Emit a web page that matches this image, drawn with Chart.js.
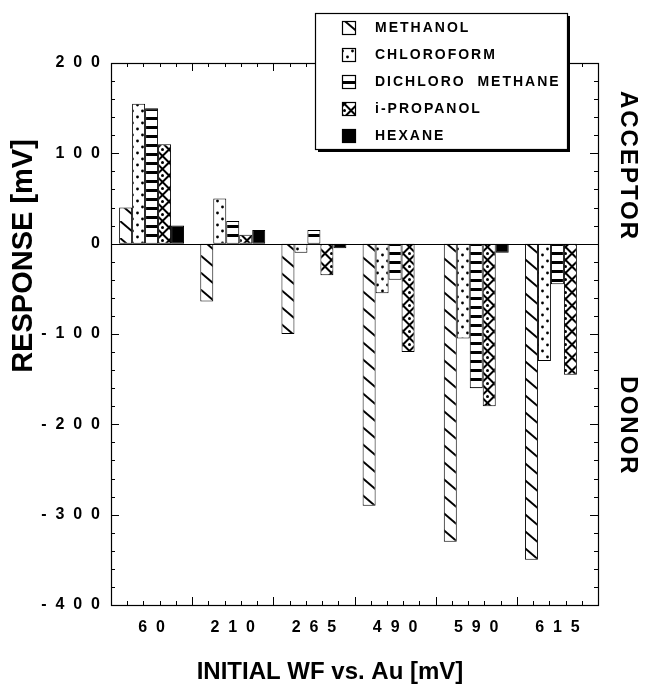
<!DOCTYPE html>
<html>
<head>
<meta charset="utf-8">
<script src="https://cdn.jsdelivr.net/npm/chart.js@4/dist/chart.umd.min.js"></script>
<style>
  html, body { margin: 0; padding: 0; background: #fff; }
  #wrap { width: 645px; height: 686px; }
</style>
</head>
<body>
<div id="wrap"><canvas id="chart" width="645" height="686"></canvas></div>
<script>
// Data (mV)
const categories = ["60", "210", "265", "490", "590", "615"];
const solvents = ["METHANOL", "CHLOROFORM", "DICHLORO  METHANE", "i-PROPANOL", "HEXANE"];
const methanol = [40, -64, -100, -290, -330, -350];
const chloroform = [155, 50, -10, -55, -105, -130];
const dichloromethane = [150, 25, 15, -40, -160, -45];
const ipropanol = [110, 10, -35, -120, -180, -145];
const hexane = [20, 15, -5, null, -10, null];
const yTicks = [-400, -300, -200, -100, 0, 100, 200];

const FONT = "'Liberation Sans', Arial, Helvetica, sans-serif";

// Spread digits out like the original labels
function spaced(v) {
  return String(v).split("").join("  ");
}

// Hatch fills
function makePattern(kind, ctx) {
  const c = document.createElement("canvas");
  const g = c.getContext("2d");
  if (kind === "diag") {
    c.width = 20; c.height = 17;
    g.fillStyle = "#fff"; g.fillRect(0, 0, 20, 17);
    g.strokeStyle = "#000"; g.lineWidth = 2;
    [[-20, -17], [0, 0], [20, 17]].forEach(([ox, oy]) => {
      g.beginPath(); g.moveTo(ox, oy); g.lineTo(ox + 20, oy + 17); g.stroke();
    });
  } else if (kind === "dots") {
    c.width = 10; c.height = 12;
    g.fillStyle = "#fff"; g.fillRect(0, 0, 10, 12);
    g.fillStyle = "#000";
    g.beginPath(); g.arc(2.5, 3, 1.4, 0, Math.PI * 2); g.fill();
    g.beginPath(); g.arc(7.5, 9, 1.4, 0, Math.PI * 2); g.fill();
  } else if (kind === "hstripe") {
    c.width = 4; c.height = 9;
    g.fillStyle = "#fff"; g.fillRect(0, 0, 4, 9);
    g.fillStyle = "#000"; g.fillRect(0, 0, 4, 3);
  } else if (kind === "diamond") {
    c.width = 13; c.height = 13;
    g.fillStyle = "#fff"; g.fillRect(0, 0, 13, 13);
    g.strokeStyle = "#000"; g.lineWidth = 2;
    g.beginPath();
    g.moveTo(6.5, 0); g.lineTo(13, 6.5); g.lineTo(6.5, 13); g.lineTo(0, 6.5); g.closePath();
    g.stroke();
    g.fillStyle = "#000";
    g.beginPath(); g.arc(6.5, 6.5, 1.5, 0, Math.PI * 2); g.fill();
  }
  return ctx.createPattern(c, "repeat");
}

document.addEventListener("DOMContentLoaded", () => {
  const canvas = document.getElementById("chart");
  const ctx = canvas.getContext("2d");

  const fills = [
    makePattern("diag", ctx),
    makePattern("dots", ctx),
    makePattern("hstripe", ctx),
    makePattern("diamond", ctx),
    "#000"
  ];
  const series = [methanol, chloroform, dichloromethane, ipropanol, hexane];

  // Frame, inward ticks, zero line, side labels and the boxed legend
  const decorPlugin = {
    id: "decor",
    afterDraw(chart) {
      const c = chart.ctx;
      const a = chart.chartArea;
      const x = chart.scales.x;
      const y = chart.scales.y;
      c.save();
      c.strokeStyle = "#000";
      c.lineWidth = 1.2;

      // zero line
      const y0 = Math.round(y.getPixelForValue(0)) + 0.5;
      c.beginPath(); c.moveTo(a.left, y0); c.lineTo(a.right, y0); c.stroke();

      // frame
      c.strokeRect(a.left + 0.5, a.top + 0.5, a.right - a.left, a.bottom - a.top);

      // y ticks every 20, both sides
      c.lineWidth = 1;
      for (let v = -400; v <= 200; v += 20) {
        const py = Math.round(y.getPixelForValue(v)) + 0.5;
        const len = v % 100 === 0 ? 8 : 4;
        c.beginPath();
        c.moveTo(a.left, py); c.lineTo(a.left + len, py);
        c.moveTo(a.right, py); c.lineTo(a.right - len, py);
        c.stroke();
      }
      // x ticks: major at category boundaries, 4 minor between
      for (let i = 0; i < categories.length * 5 + 1; i++) {
        const v = -0.5 + i / 5;
        const px = Math.round(x.getPixelForValue(v)) + 0.5;
        const len = i % 5 === 0 ? 8 : 4;
        c.beginPath();
        c.moveTo(px, a.bottom); c.lineTo(px, a.bottom - len);
        c.moveTo(px, a.top); c.lineTo(px, a.top + len);
        c.stroke();
      }

      // axis titles
      c.fillStyle = "#000";
      c.textAlign = "center";
      c.textBaseline = "middle";
      c.font = "bold 24px " + FONT;
      c.fillText("INITIAL WF vs. Au [mV]", 330, 672);

      c.save();
      c.translate(24, 256);
      c.rotate(-Math.PI / 2);
      c.font = "bold 29px " + FONT;
      c.fillText("RESPONSE [mV]", 0, 0);
      c.restore();

      c.save();
      c.font = "bold 24px " + FONT;
      c.letterSpacing = "2px";
      c.translate(628, 166);
      c.rotate(Math.PI / 2);
      c.fillText("ACCEPTOR", 0, 0);
      c.restore();
      c.save();
      c.font = "bold 24px " + FONT;
      c.letterSpacing = "2px";
      c.translate(628, 426);
      c.rotate(Math.PI / 2);
      c.fillText("DONOR", 0, 0);
      c.restore();

      // legend box with drop shadow
      const lx = 315, ly = 13, lw = 252, lh = 136;
      c.fillStyle = "#000";
      c.fillRect(lx + 3, ly + 3, lw, lh);
      c.fillStyle = "#fff";
      c.fillRect(lx, ly, lw, lh);
      c.lineWidth = 1.2;
      c.strokeRect(lx + 0.5, ly + 0.5, lw, lh);

      c.textAlign = "left";
      c.font = "bold 14px " + FONT;
      c.letterSpacing = "2px";
      solvents.forEach((name, i) => {
        const cy = 27 + i * 27;
        c.fillStyle = fills[i];
        c.fillRect(342, cy - 6, 13, 13);
        c.strokeStyle = "#000";
        c.lineWidth = 1.2;
        c.strokeRect(342.5, cy - 5.5, 13, 13);
        c.fillStyle = "#000";
        c.fillText(name, 375, cy + 1);
      });
      c.restore();
    }
  };

  new Chart(ctx, {
    type: "bar",
    data: {
      labels: categories,
      datasets: series.map((d, i) => ({
        label: solvents[i],
        data: d,
        backgroundColor: fills[i],
        borderColor: "#000",
        borderWidth: 1,
        borderSkipped: false,
        categoryPercentage: 0.8,
        barPercentage: 1.0
      }))
    },
    options: {
      responsive: false,
      animation: false,
      events: [],
      layout: { padding: { top: 63, right: 47, left: 0, bottom: 0 } },
      plugins: {
        legend: { display: false },
        tooltip: { enabled: false }
      },
      scales: {
        x: {
          grid: { display: false, drawTicks: false },
          border: { display: false },
          ticks: {
            color: "#000",
            padding: 13,
            font: { family: FONT, size: 16, weight: "bold" },
            callback: (v, i) => spaced(categories[i])
          },
          afterFit: (s) => { s.height = 81; }
        },
        y: {
          min: -400,
          max: 200,
          grid: { display: false, drawTicks: false },
          border: { display: false },
          afterBuildTicks: (s) => { s.ticks = yTicks.map((v) => ({ value: v })); },
          ticks: {
            color: "#000",
            padding: 11,
            font: { family: FONT, size: 16, weight: "bold" },
            callback: (v) => spaced(v)
          },
          afterFit: (s) => { s.width = 111; }
        }
      }
    },
    plugins: [decorPlugin]
  });
});
</script>
</body>
</html>
